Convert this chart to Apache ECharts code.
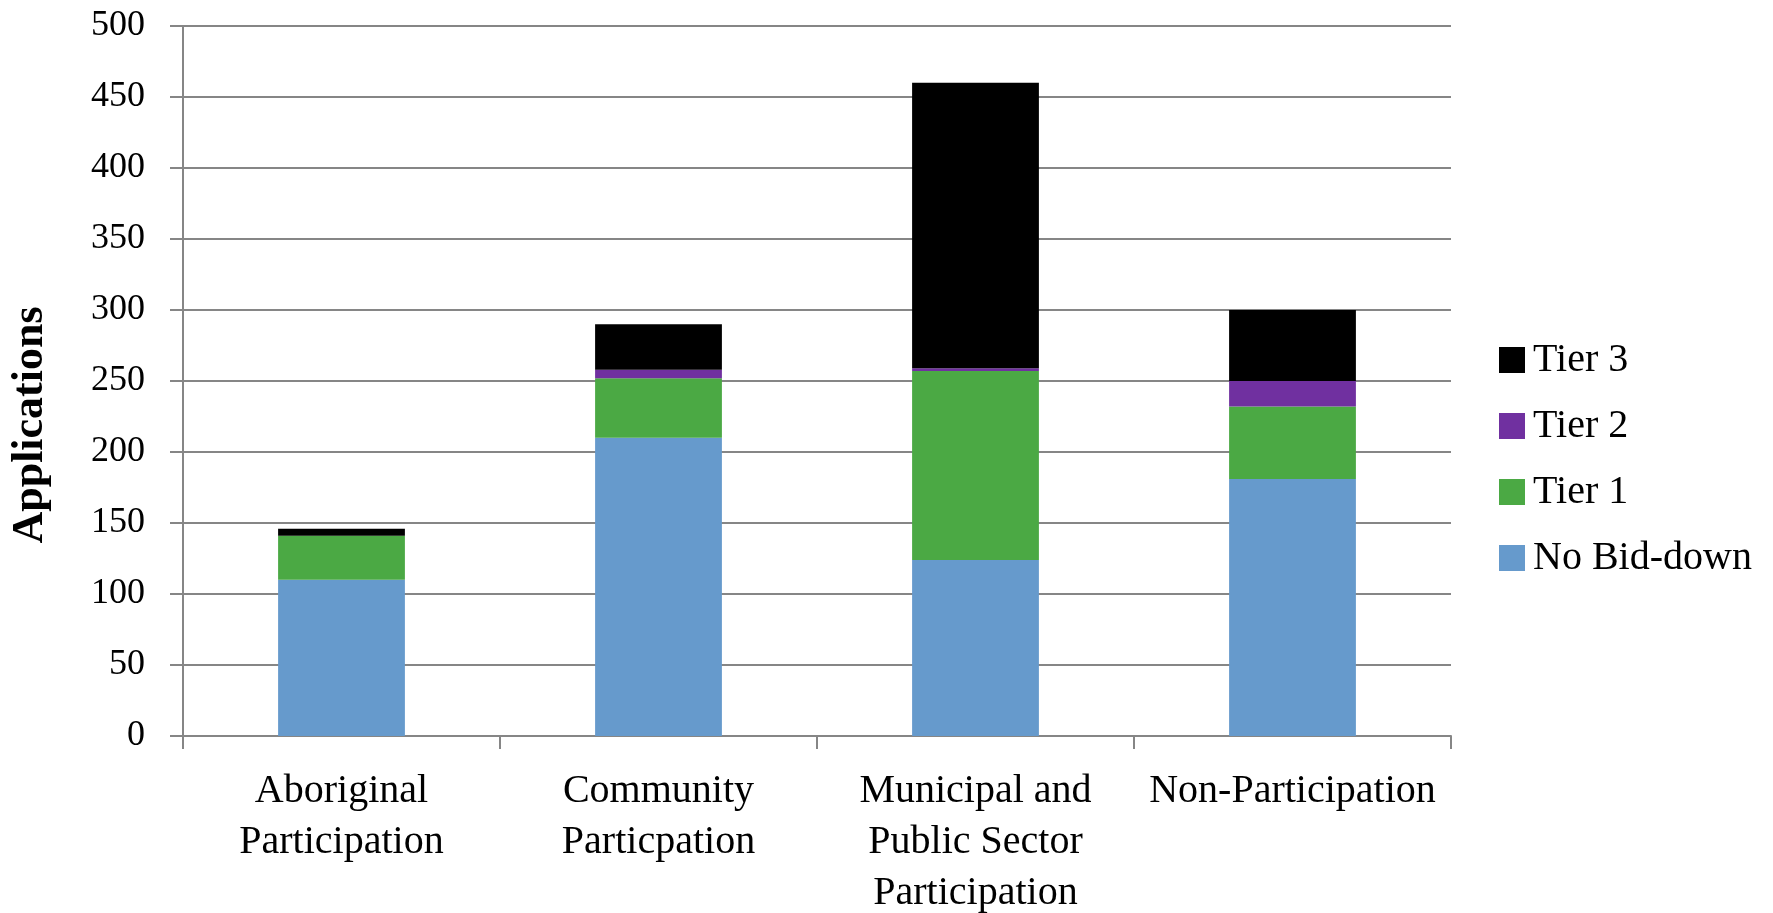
<!DOCTYPE html>
<html>
<head>
<meta charset="utf-8">
<script src="https://cdn.jsdelivr.net/npm/echarts@6/dist/echarts.min.js"></script>
<style>
html,body{margin:0;padding:0;background:#fff;}
#chart{width:1773px;height:913px;}
</style>
</head>
<body>
<div id="chart"></div>
<script>
var categories = ["Aboriginal\nParticipation", "Community\nParticpation", "Municipal and\nPublic Sector\nParticipation", "Non-Participation"];
var noBidDown = [110, 210, 124, 181];
var tier1 = [31, 42, 133, 51];
var tier2 = [0, 6, 2, 18];
var tier3 = [5, 32, 201, 50];
var yTicks = {min: 0, max: 500, interval: 50};

var FONT = '"Liberation Serif", "DejaVu Serif", serif';
var chart = echarts.init(document.getElementById('chart'), null, {renderer: 'canvas'});
function bar(name, data, color) {
  return {
    name: name, type: 'bar', stack: 'total', data: data, barWidth: '40%',
    itemStyle: {color: color}, emphasis: {disabled: true}
  };
}
chart.setOption({
  animation: false,
  backgroundColor: '#ffffff',
  textStyle: {fontFamily: FONT},
  grid: {left: 183, right: 322, top: 26, bottom: 177, containLabel: false, outerBoundsMode: 'none'},
  legend: {
    orient: 'vertical', left: 1494, top: 335,
    itemWidth: 26, itemHeight: 26, itemGap: 26, icon: 'rect',
    data: ['Tier 3', 'Tier 2', 'Tier 1', 'No Bid-down'],
    textStyle: {fontFamily: FONT, fontSize: 40, color: '#000', lineHeight: 40, padding: [0, 0, 0, 3]}
  },
  xAxis: {
    type: 'category', data: categories,
    axisLine: {lineStyle: {color: '#868686', width: 2}},
    axisTick: {show: true, length: 13, lineStyle: {color: '#868686', width: 2}},
    axisLabel: {fontFamily: FONT, fontSize: 40, color: '#000', lineHeight: 51, margin: 30, interval: 0}
  },
  yAxis: {
    type: 'value', min: yTicks.min, max: yTicks.max, interval: yTicks.interval,
    name: 'Applications', nameLocation: 'middle', nameGap: 130,
    nameTextStyle: {fontFamily: FONT, fontSize: 44, fontWeight: 'bold', color: '#000', padding: [0, 88, 0, 0]},
    axisLine: {show: true, lineStyle: {color: '#868686', width: 2}},
    axisTick: {show: true, length: 13, lineStyle: {color: '#868686', width: 2}},
    axisLabel: {fontFamily: FONT, fontSize: 36, color: '#000', margin: 38},
    splitLine: {lineStyle: {color: '#868686', width: 2}}
  },
  series: [
    bar('No Bid-down', noBidDown, '#669ACC'),
    bar('Tier 1', tier1, '#4BA944'),
    bar('Tier 2', tier2, '#7030A0'),
    bar('Tier 3', tier3, '#000000')
  ]
});
</script>
</body>
</html>
